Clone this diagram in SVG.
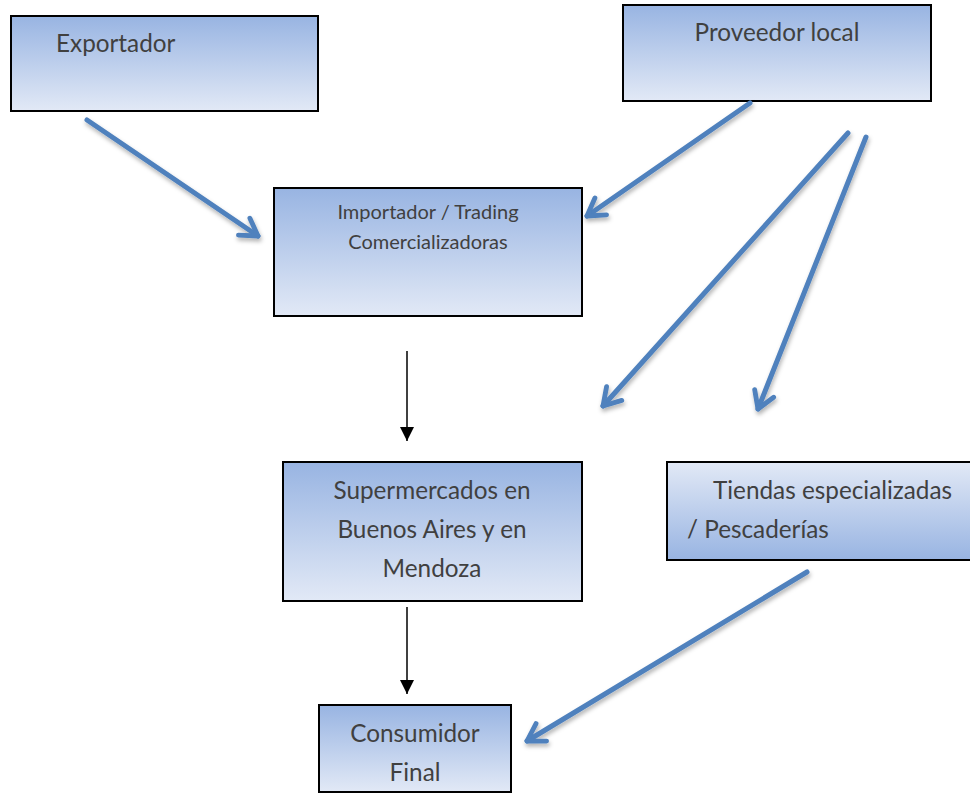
<svg xmlns="http://www.w3.org/2000/svg" width="970" height="793" viewBox="0 0 970 793">
<defs>
<linearGradient id="gd" x1="0" y1="0" x2="0" y2="1"><stop offset="0" stop-color="#98b4e2"/><stop offset="1" stop-color="#e2e9f6"/></linearGradient>
<linearGradient id="gu" x1="0" y1="0" x2="0" y2="1"><stop offset="0" stop-color="#e2e9f6"/><stop offset="1" stop-color="#98b4e2"/></linearGradient>
<filter id="sh" x="-20%" y="-20%" width="140%" height="140%"><feDropShadow dx="1" dy="3" stdDeviation="2" flood-color="#000" flood-opacity="0.3"/></filter>
<marker id="ob" viewBox="0 0 14 14" refX="11" refY="7" markerWidth="26" markerHeight="26" markerUnits="userSpaceOnUse" orient="auto"><path d="M2,1.5 L11,7 L2,12.5" fill="none" stroke="#4f81bd" stroke-width="2.6" stroke-linecap="round" stroke-linejoin="round"/></marker>
<marker id="bk" viewBox="0 0 10 10" refX="10" refY="5" markerWidth="14" markerHeight="14" markerUnits="userSpaceOnUse" orient="auto"><path d="M0,0 L10,5 L0,10 Z" fill="#000"/></marker>
</defs>
<style>
.box{stroke:#000;stroke-width:2}
.t{font-family:Lato,"Open Sans",sans-serif;fill:#404040;font-size:24.3px}
.s{font-size:20px}
.bl{stroke:#4f81bd;stroke-width:5;fill:none;stroke-linecap:round;marker-end:url(#ob);filter:url(#sh)}
.k{stroke:#000;stroke-width:1.5;fill:none;marker-end:url(#bk)}
</style>
<g id="exportador"><rect class="box" x="11" y="16" width="307" height="95" fill="url(#gd)"/><text class="t" x="56" y="52">Exportador</text></g>
<g id="proveedor"><rect class="box" x="623" y="5" width="308" height="96" fill="url(#gd)"/><text class="t" x="777" y="41" text-anchor="middle">Proveedor local</text></g>
<g id="importador"><rect class="box" x="274" y="188" width="308" height="128" fill="url(#gd)"/><text class="t s" x="428" y="219" text-anchor="middle">Importador / Trading</text><text class="t s" x="428" y="249" text-anchor="middle">Comercializadoras</text></g>
<g id="supermercados"><rect class="box" x="283" y="462" width="299" height="139" fill="url(#gd)"/><text class="t" x="432" y="499" text-anchor="middle">Supermercados en</text><text class="t" x="432" y="538" text-anchor="middle">Buenos Aires y en</text><text class="t" x="432" y="577" text-anchor="middle">Mendoza</text></g>
<g id="tiendas"><rect class="box" x="667" y="462" width="310" height="98" fill="url(#gu)"/><text class="t" x="713" y="499">Tiendas especializadas</text><text class="t" x="687" y="538">/ Pescaderías</text></g>
<g id="consumidor"><rect class="box" x="319" y="705" width="192" height="87" fill="url(#gd)"/><text class="t" x="415" y="742" text-anchor="middle">Consumidor</text><text class="t" x="415" y="781" text-anchor="middle">Final</text></g>
<g id="connectors">
<line class="bl" x1="87" y1="120" x2="258" y2="236"/>
<line class="bl" x1="750" y1="103" x2="587" y2="216"/>
<line class="bl" x1="848" y1="133" x2="603" y2="406"/>
<line class="bl" x1="866" y1="137" x2="758" y2="409"/>
<line class="bl" x1="807" y1="572" x2="527" y2="741"/>
<line class="k" x1="407" y1="351" x2="407" y2="441"/>
<line class="k" x1="407" y1="607" x2="407" y2="694"/>
</g>
</svg>
